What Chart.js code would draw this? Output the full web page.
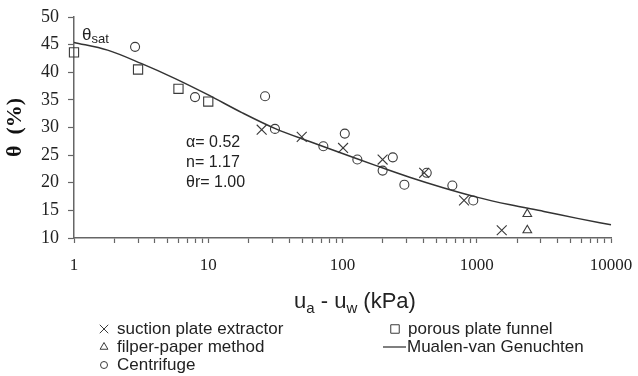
<!DOCTYPE html>
<html><head><meta charset="utf-8">
<script src="https://cdn.jsdelivr.net/npm/chart.js@4"></script>
<style>html,body{margin:0;padding:0;background:#fff}#wrap{width:638px;height:376px;position:relative}</style>
</head><body><div id="wrap"><canvas id="c" width="638" height="376"></canvas></div>
<script>
// ---- data ----
const suctionX = [25, 49.7, 101, 199, 406, 804, 1535];
const suctionY = [29.6, 28.3, 26.3, 24.2, 21.8, 16.8, 11.4];
const porousX = [1, 3.0, 6.0, 10];
const porousY = [43.6, 40.5, 37.0, 34.7];
const filperX = [2380, 2380];
const filperY = [14.35, 11.4];
const centX = [2.85, 7.97, 26.5, 31.4, 72, 104, 129, 199, 237, 289, 424, 658, 942];
const centY = [44.6, 35.5, 35.65, 29.75, 26.6, 28.9, 24.2, 22.2, 24.6, 19.65, 21.8, 19.5, 16.8];
const curveX = [1, 1.78, 3.16, 5.62, 10, 17.8, 31.6, 56.2, 100, 178, 316, 562, 1000, 1778, 3162, 5623, 10000];
const curveY = [45.4, 44.0, 41.6, 38.9, 35.9, 32.7, 29.8, 27.5, 25.3, 23.1, 21.0, 19.1, 17.4, 16.0, 14.8, 13.55, 12.4];
const xMajorTicks = [1, 10, 100, 1000, 10000];
const yTicks = [10, 15, 20, 25, 30, 35, 40, 45, 50];
const legendLabels = ['suction plate extractor', 'porous plate funnel', 'filper-paper method', 'Mualen-van Genuchten', 'Centrifuge'];
const params = ['α= 0.52', 'n= 1.17', 'θr= 1.00'];

const zip = (xs, ys) => xs.map((x, i) => ({x: x, y: ys[i]}));
const INK = '#3a3a3a';
const AX = '#666';
const SERIF = '"Liberation Serif", "DejaVu Serif", serif';
const SANS = '"Liberation Sans", Arial, sans-serif';

const xAllTicks = [];
xMajorTicks.forEach((m, i) => {
  if (i === xMajorTicks.length - 1) { xAllTicks.push(m); return; }
  for (let k = 1; k <= 9; k++) xAllTicks.push(m * k);
});

function sym(ctx, style, x, y, r) {
  ctx.beginPath();
  if (style === 'crossRot') {
    const o = r * Math.SQRT1_2;
    ctx.moveTo(x - o, y - o); ctx.lineTo(x + o, y + o);
    ctx.moveTo(x - o, y + o); ctx.lineTo(x + o, y - o);
    ctx.stroke(); return;
  }
  if (style === 'rect') { const s = r * Math.SQRT1_2; ctx.rect(x - s, y - s, 2 * s, 2 * s); ctx.stroke(); return; }
  if (style === 'triangle') {
    ctx.moveTo(x, y - r);
    ctx.lineTo(x + r * 0.866, y + r * 0.5);
    ctx.lineTo(x - r * 0.866, y + r * 0.5);
    ctx.closePath(); ctx.stroke(); return;
  }
  if (style === 'circle') { ctx.arc(x, y, r, 0, Math.PI * 2); ctx.stroke(); return; }
}

const annot = {
  id: 'annot',
  afterDraw(chart) {
    const ctx = chart.ctx, a = chart.chartArea;
    ctx.save();
    ctx.fillStyle = '#222';
    ctx.textBaseline = 'alphabetic';
    ctx.textAlign = 'left';
    // theta sat
    ctx.font = '17px ' + SANS;
    ctx.fillText('θ', a.left + 8, a.top + 23);
    const wt = ctx.measureText('θ').width;
    ctx.font = '13px ' + SANS;
    ctx.fillText('sat', a.left + 8 + wt, a.top + 26);
    // parameters
    ctx.font = '16px ' + SANS;
    params.forEach((t, i) => ctx.fillText(t, a.left + 112, a.top + 130 + i * 20));
    // x title with subscripts
    const big = '22px ' + SANS, small = '15px ' + SANS;
    const parts = [['u', big, 0], ['a', small, 5], [' - u', big, 0], ['w', small, 5], [' (kPa)', big, 0]];
    let tw = 0;
    parts.forEach(p => { ctx.font = p[1]; tw += ctx.measureText(p[0]).width; });
    let x = 355 - tw / 2;
    const base = a.bottom + 70;
    parts.forEach(p => { ctx.font = p[1]; ctx.fillText(p[0], x, base + p[2]); x += ctx.measureText(p[0]).width; });
    // legend
    ctx.font = '17px ' + SANS;
    ctx.textBaseline = 'middle';
    ctx.strokeStyle = INK; ctx.lineWidth = 1;
    const ds = chart.data.datasets;
    const pos = [[104, 329], [395, 329], [104, 347], [395, 347], [104, 365]];
    ds.forEach((d, i) => {
      const [sx, sy] = pos[i];
      if (d.showLine) {
        ctx.lineWidth = 1.3;
        ctx.beginPath(); ctx.moveTo(sx - 12, sy); ctx.lineTo(sx + 11, sy); ctx.stroke();
        ctx.lineWidth = 1;
        ctx.fillText(d.label, sx + 12, sy);
      } else {
        sym(ctx, d.pointStyle, sx, sy, d.legendR);
        ctx.fillText(d.label, sx + 13, sy);
      }
    });
    ctx.restore();
  }
};

new Chart(document.getElementById('c'), {
  type: 'scatter',
  data: {
    datasets: [
      {label: legendLabels[0], data: zip(suctionX, suctionY), pointStyle: 'crossRot', pointRadius: 7, legendR: 6, borderColor: INK, backgroundColor: 'rgba(0,0,0,0)', pointBorderWidth: 1.1, clip: false},
      {label: legendLabels[1], data: zip(porousX, porousY), pointStyle: 'rect', pointRadius: 6.5, legendR: 6, borderColor: INK, backgroundColor: 'rgba(0,0,0,0)', pointBorderWidth: 1.1, clip: false},
      {label: legendLabels[2], data: zip(filperX, filperY), pointStyle: 'triangle', pointRadius: 5, legendR: 4.5, borderColor: INK, backgroundColor: 'rgba(0,0,0,0)', pointBorderWidth: 1.1, clip: false},
      {label: legendLabels[3], data: zip(curveX, curveY), showLine: true, pointRadius: 0, borderColor: '#333', borderWidth: 1.5, cubicInterpolationMode: 'monotone', clip: false},
      {label: legendLabels[4], data: zip(centX, centY), pointStyle: 'circle', pointRadius: 4.5, legendR: 3.5, borderColor: INK, backgroundColor: 'rgba(0,0,0,0)', pointBorderWidth: 1.1, clip: false}
    ]
  },
  options: {
    responsive: false,
    animation: false,
    layout: {padding: {left: 0, right: 27, top: 17, bottom: 98}},
    plugins: {legend: {display: false}, tooltip: {enabled: false}},
    scales: {
      x: {
        type: 'logarithmic', min: 1, max: 10000,
        afterBuildTicks: s => { s.ticks = xAllTicks.map(v => ({value: v, major: xMajorTicks.includes(v)})); },
        afterFit: s => { s.height = 40; s.paddingLeft = 0; s.paddingRight = 0; },
        ticks: {autoSkip: false, maxRotation: 0, padding: 12, color: '#222', font: {family: SERIF, size: 17},
          callback: v => xMajorTicks.includes(v) ? String(v) : ''},
        grid: {drawOnChartArea: false, drawTicks: true, tickLength: 5, color: AX, tickWidth: 1.2},
        border: {display: true, color: AX, width: 1.5}
      },
      y: {
        min: 10, max: 50,
        afterBuildTicks: s => { s.ticks = yTicks.map(v => ({value: v})); },
        afterFit: s => { s.width = 74; s.paddingTop = 0; s.paddingBottom = 0; },
        ticks: {padding: 9, color: '#222', font: {family: SERIF, size: 18}},
        grid: {drawOnChartArea: false, drawTicks: true, tickLength: 6, color: AX, tickWidth: 1.2},
        border: {display: true, color: AX, width: 1.5},
        title: {display: true, text: 'θ  (%)', color: '#111', font: {family: SERIF, size: 22, weight: 'bold'}, padding: {top: 2, bottom: 2}}
      }
    }
  },
  plugins: [annot]
});
</script>
</body></html>
